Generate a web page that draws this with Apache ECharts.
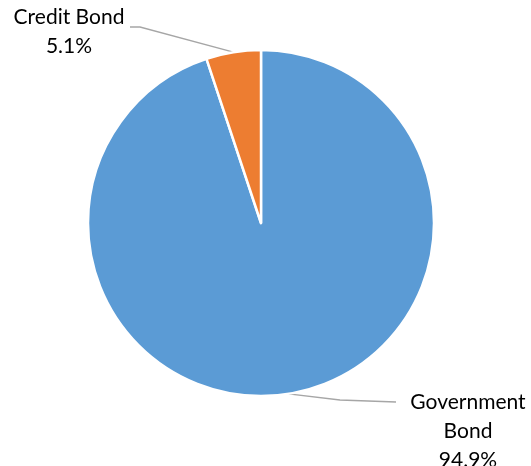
<!DOCTYPE html>
<html>
<head>
<meta charset="utf-8">
<script src="https://cdn.jsdelivr.net/npm/echarts@6/dist/echarts.min.js"></script>
<style>
  html, body { margin: 0; padding: 0; background: #fff; }
  #chart { width: 531px; height: 466px; }
</style>
</head>
<body>
<div id="chart"></div>
<script>
const categories = ['Government\nBond', 'Credit Bond']
const values = [94.9, 5.1]
const colors = ['#5B9BD5', '#ED7D31']
// label block centres
const labelPos = [[468, 431], [69, 32]]
// where each leader line bends and ends (start comes from the slice)
const leaderEnds = [
  [[340, 400], [396, 402]],
  [[140, 27], [130, 27]]
]

const myChart = echarts.init(document.getElementById('chart'))

myChart.setOption({
  animation: false,
  series: [
    {
      type: 'pie',
      center: [261, 223],
      radius: 173,
      startAngle: 90,
      clockwise: true,
      data: categories.map((name, i) => ({
        name,
        value: values[i],
        itemStyle: { color: colors[i] }
      })),
      itemStyle: {
        borderColor: '#fff',
        borderWidth: 2.5
      },
      label: {
        show: true,
        formatter: p => p.name + '\n' + p.value.toFixed(1) + '%',
        fontFamily: 'Lato, "Open Sans", sans-serif',
        fontSize: 21,
        lineHeight: 29,
        color: '#000',
        align: 'center'
      },
      labelLine: {
        show: true,
        length: 10,
        length2: 10,
        lineStyle: { color: '#A6A6A6', width: 1.3 }
      },
      labelLayout: params => {
        const p = labelPos[params.dataIndex]
        const start = params.labelLinePoints ? params.labelLinePoints[0] : null
        const out = {
          x: p[0],
          y: p[1],
          align: 'center',
          verticalAlign: 'middle'
        }
        if (start) {
          out.labelLinePoints = [start].concat(leaderEnds[params.dataIndex])
        }
        return out
      }
    }
  ]
})
</script>
</body>
</html>
